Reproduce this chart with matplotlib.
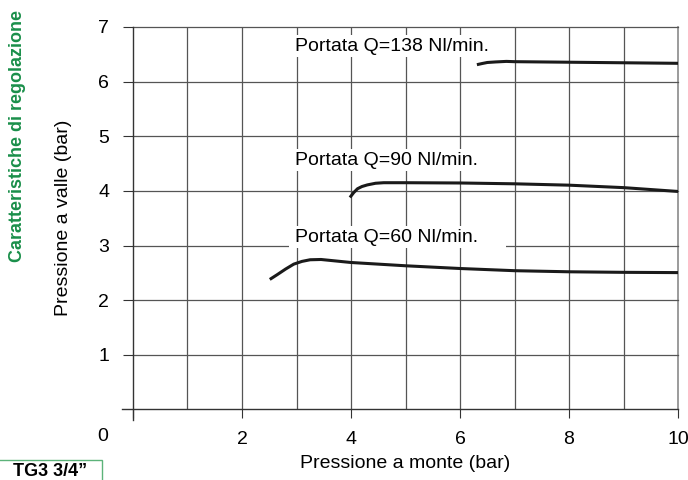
import matplotlib
matplotlib.use("Agg")
import matplotlib.pyplot as plt
from matplotlib.patches import Rectangle

plt.rcParams['font.family'] = ['Liberation Sans', 'DejaVu Sans']

# --- data ---
q138_x = [6.31, 6.4, 6.5, 6.65, 6.85, 7.0, 8.0, 9.0, 10.0]
q138_y = [6.31, 6.33, 6.35, 6.36, 6.37, 6.365, 6.355, 6.345, 6.335]

q90_x = [3.98, 4.05, 4.12, 4.2, 4.3, 4.45, 4.6, 5.0, 6.0, 7.0, 8.0, 9.0, 10.0]
q90_y = [3.88, 3.97, 4.04, 4.08, 4.11, 4.14, 4.15, 4.15, 4.145, 4.13, 4.105, 4.06, 3.99]

q60_x = [2.51, 2.65, 2.8, 2.95, 3.1, 3.25, 3.45, 3.7, 4.0, 5.0, 6.0, 7.0, 8.0, 9.0, 10.0]
q60_y = [2.38, 2.47, 2.57, 2.66, 2.71, 2.74, 2.745, 2.72, 2.69, 2.63, 2.58, 2.54, 2.52, 2.51, 2.505]

series = [
    (q138_x, q138_y, "Portata Q=138 Nl/min.", 6.65),
    (q90_x, q90_y, "Portata Q=90 Nl/min.", 4.56),
    (q60_x, q60_y, "Portata Q=60 Nl/min.", 3.15),
]
label_x = 2.97

x_ticks = [2, 4, 6, 8, 10]
y_ticks = [1, 2, 3, 4, 5, 6, 7]

fig = plt.figure(figsize=(6.88, 4.8), dpi=100)
ax = fig.add_axes([0.1933, 0.1469, 0.7922, 0.7969])
ax.set_xlim(0, 10)
ax.set_ylim(0, 7)
for s in ax.spines.values():
    s.set_visible(False)

grid_c = "#555555"
# grid
for gx in range(1, 10):
    ax.plot([gx, gx], [0, 7], color=grid_c, lw=0.9, zorder=1)
ax.plot([10, 10], [0, 7], color="#8a8a8a", lw=1.2, zorder=1, clip_on=False)
for gy in range(1, 8):
    ax.plot([0, 10], [gy, gy], color=grid_c, lw=0.9, zorder=1, clip_on=False)
# axis lines
ax.plot([0, 0], [-0.2, 7], color="#333333", lw=1.0, zorder=2, clip_on=False)
ax.plot([-0.2, 10], [0, 0], color="#333333", lw=1.0, zorder=2, clip_on=False)

ax.set_xticks([0] + x_ticks)
ax.set_xticklabels([""] + [str(t) for t in x_ticks])
ax.set_yticks(y_ticks)
ax.set_yticklabels([str(t) for t in y_ticks])
ax.tick_params(axis="x", direction="out", length=6.5, width=0.8, color="#333333",
               pad=9, labelsize=14)
ax.tick_params(axis="y", direction="out", length=7.2, width=0.8, color="#333333",
               pad=10, labelsize=14)

ax.text(-0.55, -0.5, "0", fontsize=14, ha="center", va="center")

for xs, ys, lab, ly in series:
    ax.add_patch(Rectangle((label_x - 0.1, ly - 0.2), 3.98, 0.4,
                           facecolor="white", edgecolor="none", zorder=3))
    ax.text(label_x, ly, lab, fontsize=14, ha="left", va="center", zorder=4)
    ax.plot(xs, ys, color="#1a1a1a", lw=2.2, solid_capstyle="butt",
            solid_joinstyle="round", zorder=5)

ax.set_xlabel("Pressione a monte (bar)", fontsize=14, labelpad=5)
ax.set_ylabel("Pressione a valle (bar)", fontsize=14, labelpad=19)

fig.text(18 / 688, 1 - 136 / 480, "Caratteristiche di regolazione", rotation=90,
         fontsize=13, fontweight="bold", color="#1a8f4a", ha="center", va="center")

fig.patches.append(Rectangle((-0.01, -0.02), 102 / 688 + 0.01, (480 - 460) / 480 + 0.02,
                             transform=fig.transFigure, facecolor="white",
                             edgecolor="#5cb37a", lw=1.0))
fig.text(50 / 688, 1 - 471 / 480, "TG3 3/4\u201d", fontsize=13, fontweight="bold",
         ha="center", va="center")

fig.savefig("out.png", dpi=100)
